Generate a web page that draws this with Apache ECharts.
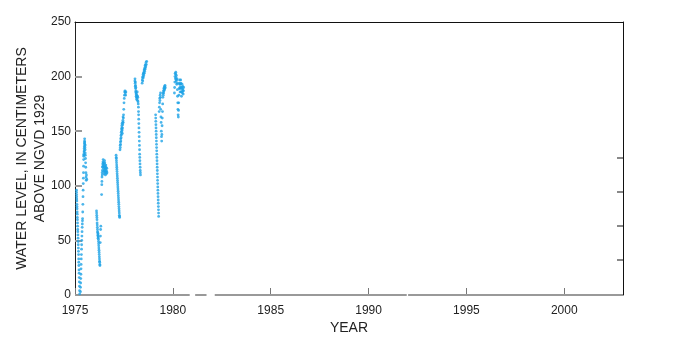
<!DOCTYPE html>
<html><head><meta charset="utf-8">
<script src="https://cdn.jsdelivr.net/npm/echarts@6/dist/echarts.min.js"></script>
<style>html,body{margin:0;padding:0;background:#fff}#c{width:694px;height:339px}</style>
</head><body><div id="c"></div>
<script>
// X axis: decimal years; Y axis: water level (cm above NGVD 1929)
const xTicks = [1975, 1980, 1985, 1990, 1995, 2000];
const yTicks = [0, 50, 100, 150, 200, 250];
const rightTicks = [32, 63, 95, 126];

const wl1975 = [[1975.075,96],[1975.078,94],[1975.082,92],[1975.085,90],[1975.09,88],[1975.094,86],[1975.098,83],[1975.102,81],[1975.107,79],[1975.111,76],[1975.116,74],[1975.12,71],[1975.125,69],[1975.13,66],[1975.135,63],[1975.14,60],[1975.145,58],[1975.15,55],[1975.156,52],[1975.161,49],[1975.166,46],[1975.172,43],[1975.177,40],[1975.183,37],[1975.188,33],[1975.194,30],[1975.199,27],[1975.205,23],[1975.21,20],[1975.216,16],[1975.221,12],[1975.227,8],[1975.232,4],[1975.238,1],
[1975.28,3],[1975.285,7],[1975.29,11],[1975.296,15],[1975.302,19],[1975.308,24],[1975.314,28],[1975.32,33],[1975.327,37],[1975.334,42],[1975.34,46],[1975.347,50],[1975.354,54],[1975.36,58],[1975.367,62],[1975.374,65],[1975.381,68],[1975.388,70],[1975.395,76],[1975.402,83],[1975.41,90],[1975.416,96],
[1975.422,102],[1975.428,107],[1975.433,112],[1975.438,118],[1975.443,124],[1975.448,127],[1975.453,129],[1975.458,128],[1975.463,131],[1975.468,134],[1975.473,132],[1975.478,136],[1975.483,139],[1975.488,141],[1975.493,143],[1975.498,140],[1975.503,138],[1975.508,135],[1975.513,137],[1975.518,133],[1975.523,130],[1975.528,128],[1975.535,125],[1975.542,121],[1975.55,117],[1975.558,112],[1975.566,108],[1975.575,105],[1975.585,110],[1975.6,106]];

const wl1976 = [[1976.1,77],[1976.106,75],[1976.112,73],[1976.118,71],[1976.124,69],[1976.13,66],[1976.136,64],[1976.142,62],[1976.148,60],[1976.154,58],[1976.16,57],[1976.166,55],[1976.172,54],[1976.178,52],[1976.184,56],[1976.19,53],[1976.196,51],[1976.202,49],[1976.208,47],[1976.214,45],[1976.22,43],[1976.226,41],[1976.232,39],[1976.238,37],[1976.244,35],[1976.25,33],[1976.256,31],[1976.262,30],[1976.268,28],[1976.274,27],
[1976.29,48],[1976.3,54],[1976.31,60],[1976.32,63],
[1976.36,92],[1976.37,101],[1976.375,104],[1976.38,108],[1976.385,112],[1976.39,110],[1976.4,114],[1976.408,117],[1976.416,120],[1976.424,118],[1976.432,122],[1976.44,124],[1976.448,121],[1976.456,119],[1976.464,116],[1976.472,113],[1976.48,111],[1976.488,114],[1976.496,117],[1976.504,120],[1976.512,123],[1976.52,121],[1976.528,118],[1976.536,115],[1976.544,112],[1976.552,110],[1976.56,113],[1976.568,116],[1976.576,119],[1976.585,117],[1976.595,114],[1976.605,111],[1976.615,113],[1976.625,116],[1976.635,112]];

const wl1977 = [[1977.1,128],[1977.106,126],[1977.112,125],[1977.118,123],[1977.124,121],[1977.13,119],[1977.136,117],[1977.142,115],[1977.148,113],[1977.154,111],[1977.16,109],[1977.166,107],[1977.172,105],[1977.178,103],[1977.184,101],[1977.19,99],[1977.196,97],[1977.202,95],[1977.208,93],[1977.214,91],[1977.22,89],[1977.226,87],[1977.232,85],[1977.238,83],[1977.244,81],[1977.25,79],[1977.256,77],[1977.262,75],[1977.268,73],[1977.274,72],[1977.28,71],
[1977.3,133],[1977.307,137],[1977.314,135],[1977.321,140],[1977.328,138],[1977.335,143],[1977.342,141],[1977.349,146],[1977.356,144],[1977.363,149],[1977.37,147],[1977.377,152],[1977.384,150],[1977.391,155],[1977.398,153],[1977.405,157],[1977.412,151],[1977.419,148],[1977.426,153],[1977.433,158],[1977.44,156],[1977.448,160],[1977.456,163],[1977.464,158],[1977.472,162],[1977.48,165],[1977.492,170],[1977.504,176],[1977.516,180],[1977.528,183],[1977.54,186],[1977.555,187],[1977.57,185],[1977.585,183],[1977.6,186]];

const wl1978 = [[1978.06,196],[1978.066,198],[1978.072,194],[1978.078,191],[1978.084,195],[1978.09,192],[1978.096,189],[1978.102,186],[1978.108,190],[1978.114,187],[1978.12,184],[1978.126,182],[1978.132,185],[1978.14,181],[1978.15,179],[1978.16,183],[1978.17,180],[1978.18,186],[1978.19,182],[1978.2,178],[1978.21,181],[1978.22,177],[1978.23,175],[1978.24,172],
[1978.245,168],[1978.25,165],[1978.256,161],[1978.262,157],[1978.268,153],[1978.274,149],[1978.28,145],[1978.286,141],[1978.292,137],[1978.298,133],[1978.304,129],[1978.31,126],[1978.316,123],[1978.322,120],[1978.328,117],[1978.334,114],[1978.34,112],[1978.346,110],
[1978.43,194],[1978.44,197],[1978.45,199],[1978.46,196],[1978.47,200],[1978.48,202],[1978.49,199],[1978.5,203],[1978.51,201],[1978.52,204],[1978.53,206],[1978.54,203],[1978.55,207],[1978.56,205],[1978.57,208],[1978.58,210],[1978.59,207],[1978.6,211],[1978.615,209],[1978.63,213],[1978.645,211],[1978.66,214]];

const wl1979 = [[1979.12,165],[1979.125,162],[1979.13,159],[1979.135,156],[1979.14,153],[1979.145,150],[1979.15,147],[1979.155,144],[1979.16,141],[1979.165,138],[1979.17,135],[1979.175,132],[1979.18,129],[1979.185,126],[1979.19,123],[1979.195,120],[1979.2,117],[1979.205,114],[1979.21,111],[1979.215,108],[1979.22,105],[1979.225,102],[1979.23,99],[1979.235,96],[1979.24,93],[1979.245,90],[1979.25,87],[1979.255,84],[1979.26,81],[1979.265,78],[1979.27,75],[1979.275,72],
[1979.3,168],[1979.31,172],[1979.32,176],[1979.33,180],[1979.34,178],[1979.35,183],[1979.36,181],[1979.37,185],[1979.38,170],[1979.39,163],[1979.4,158],[1979.41,150],[1979.42,145],[1979.43,141],[1979.44,147],[1979.45,155],[1979.46,162],[1979.47,168],[1979.48,175],[1979.49,181],[1979.5,185],[1979.51,183],[1979.52,187],[1979.53,185],[1979.54,189],[1979.55,187],[1979.56,190],[1979.57,188],[1979.58,191],[1979.59,189],[1979.6,192],[1979.61,190]];

const wl1980 = [[1980.08,185],[1980.09,190],[1980.1,195],[1980.11,200],[1980.12,203],[1980.13,198],[1980.14,202],[1980.15,204],[1980.16,199],[1980.17,196],[1980.18,201],[1980.19,197],[1980.2,193],[1980.21,198],[1980.22,194],[1980.23,188],[1980.24,182],[1980.25,176],[1980.26,170],[1980.27,165],[1980.28,163],[1980.29,169],[1980.3,176],[1980.31,183],[1980.32,189],[1980.33,194],[1980.34,197],[1980.35,193],[1980.36,190],[1980.37,186],[1980.38,189],[1980.39,193],[1980.4,197],[1980.41,194],[1980.42,190],[1980.43,186],[1980.44,182],[1980.45,186],[1980.46,190],[1980.47,193],[1980.48,189],[1980.49,185],[1980.5,188],[1980.51,191],[1980.52,187],[1980.53,184],[1980.54,187],[1980.55,190]];

// bottom baseline drawn with the small breaks seen in the reference
const baseline = [[1975,0],[1980.86,0],null,[1981.14,0],[1981.72,0],null,[1982.14,0],[1991.95,0],null,[1992.02,0],[2003,0]];

const blue = '#1ea2e6';
const chart = echarts.init(document.getElementById('c'));
const font = 'Liberation Sans, Arial, sans-serif';
const dots = [wl1975, wl1976, wl1977, wl1978, wl1979, wl1980].map(d => ({
  type: 'scatter', data: d, symbol: 'circle', symbolSize: 2.8,
  itemStyle: {color: blue}, silent: true, animation: false, z: 3
}));
const baseData = baseline.map(p => (p === null ? '-' : p));

chart.setOption({
  animation: false,
  grid: {left: 75, right: 71, top: 22, bottom: 44, outerBoundsMode: 'none', containLabel: false},
  xAxis: [{
    type: 'value', min: 1975, max: 2003, interval: 5,
    axisLine: {show: false, onZero: false},
    axisTick: {show: true, inside: true, length: 7, lineStyle: {color: '#777', width: 1},
      customValues: xTicks},
    axisLabel: {color: '#222', fontFamily: font, fontSize: 12, margin: 10,
      customValues: xTicks, formatter: v => String(v)},
    splitLine: {show: false},
    name: 'YEAR', nameLocation: 'middle', nameGap: 26, nameMoveOverlap: false,
    nameTextStyle: {color: '#222', fontFamily: font, fontSize: 14}
  }, {
    type: 'value', min: 1975, max: 2003, position: 'top',
    axisLine: {show: true, onZero: false, lineStyle: {color: '#111', width: 1}},
    axisTick: {show: false}, axisLabel: {show: false}, splitLine: {show: false}
  }],
  yAxis: [{
    type: 'value', min: 0, max: 250, interval: 50,
    axisLine: {show: true, onZero: false, lineStyle: {color: '#222', width: 1}},
    axisTick: {show: true, inside: true, length: 7, lineStyle: {color: '#999', width: 2},
      customValues: [50, 100, 150, 200]},
    axisLabel: {color: '#222', fontFamily: font, fontSize: 12, margin: 4, customValues: yTicks},
    splitLine: {show: false},
    name: 'WATER LEVEL, IN CENTIMETERS\nABOVE NGVD 1929',
    nameLocation: 'middle', nameGap: 26, nameRotate: 90, nameMoveOverlap: false,
    nameTextStyle: {color: '#222', fontFamily: font, fontSize: 14, lineHeight: 18}
  }, {
    type: 'value', min: 0, max: 250, position: 'right',
    axisLine: {show: true, onZero: false, lineStyle: {color: '#111', width: 1}},
    axisTick: {show: true, inside: true, length: 6, lineStyle: {color: '#888', width: 2},
      customValues: rightTicks},
    axisLabel: {show: false}, splitLine: {show: false}
  }],
  series: [{
    type: 'line', data: baseData, showSymbol: false, connectNulls: false, clip: false,
    lineStyle: {color: '#999', width: 2}, silent: true, z: 1
  }].concat(dots)
});
</script></body></html>
